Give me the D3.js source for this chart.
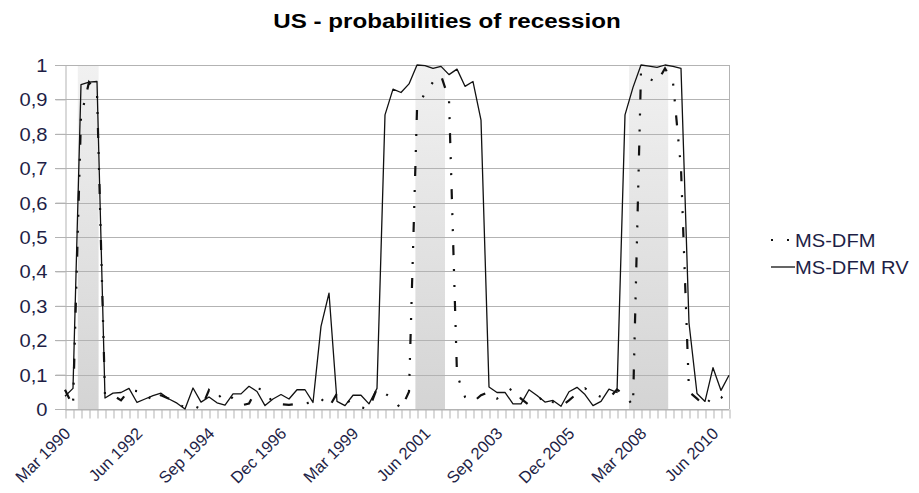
<!DOCTYPE html>
<html>
<head>
<meta charset="utf-8">
<title>US - probabilities of recession</title>
<script src="https://cdn.jsdelivr.net/npm/d3@7"></script>
<style>
  body { margin: 0; background: #fff; }
  svg { display: block; font-family: "Liberation Sans", Arial, sans-serif; }
  .grid line { stroke: #b3b3b3; stroke-width: 1; }
  .axis path, .axis line { stroke: #b3b3b3; stroke-width: 1; }
  .axis text { fill: #1e1e46; }
</style>
</head>
<body>
<script>

// quarterly, Mar 1990 .. Dec 2010 (84 quarters)
var tickLabels = ["Mar 1990", "Jun 1992", "Sep 1994", "Dec 1996", "Mar 1999",
                  "Jun 2001", "Sep 2003", "Dec 2005", "Mar 2008", "Jun 2010"];
var months = ["Mar", "Jun", "Sep", "Dec"];
var quarters = [];
for (var yr = 1990; yr <= 2010; yr++) months.forEach(function(m) { quarters.push(m + " " + yr); });

var msDfm = [
  0.056, 0.008, 0.85, 0.95, 0.92, 0.04, 0.04, 0.025, 0.055, 0.052,
  0.048, 0.02, 0.04, 0.03, 0.015, 0.005, 0.01, 0.0, 0.055, 0.03,
  0.05, 0.03, 0.01, 0.016, 0.06, 0.055, 0.016, 0.014, 0.012, 0.015,
  0.016, 0.02, 0.03, 0.005, 0.045, 0.03, 0.012, 0.005, 0.0, 0.06,
  0.045, 0.03, 0.0, 0.05, 0.87, 0.92, 0.95, 0.97, 0.9, 0.1,
  0.035, 0.02, 0.04, 0.05, 0.03, 0.045, 0.062, 0.03, 0.012, 0.022,
  0.04, 0.02, 0.008, 0.025, 0.045, 0.06, 0.045, 0.035, 0.03, 0.057,
  0.04, 0.01, 0.98, 0.96, 0.95, 0.99, 0.95, 0.7, 0.05, 0.03,
  0.008, 0.04, 0.035, 0.015
];

var msDfmRv = [
  0.037, 0.06, 0.943, 0.95, 0.952, 0.032, 0.046, 0.048, 0.06, 0.019,
  0.029, 0.039, 0.046, 0.029, 0.017, 0.0, 0.061, 0.02, 0.035, 0.018,
  0.011, 0.044, 0.044, 0.066, 0.051, 0.01, 0.029, 0.042, 0.029, 0.056,
  0.056, 0.019, 0.24, 0.337, 0.022, 0.01, 0.04, 0.04, 0.015, 0.06,
  0.855, 0.93, 0.92, 0.945, 1.0, 0.998, 0.99, 0.996, 0.972, 0.988,
  0.938, 0.952, 0.84, 0.064, 0.048, 0.048, 0.015, 0.015, 0.056, 0.039,
  0.02, 0.025, 0.008, 0.05, 0.063, 0.042, 0.01, 0.022, 0.058, 0.048,
  0.855, 0.935, 1.0, 0.997, 0.993, 1.0, 0.996, 0.99, 0.25, 0.045,
  0.022, 0.12, 0.054, 0.098
];

// shaded recession periods, in quarter positions along the axis
var recStart = [1.6, 43.8, 70.5];
var recEnd   = [4.2, 47.5, 75.4];

var yTicks  = [0, 0.1, 0.2, 0.3, 0.4, 0.5, 0.6, 0.7, 0.8, 0.9, 1];
var yLabels = ["0", "0,1", "0,2", "0,3", "0,4", "0,5", "0,6", "0,7", "0,8", "0,9", "1"];

var seriesNames = ["MS-DFM", "MS-DFM RV"];

var W = 919, H = 493;
var plotL = 65, plotR = 729, plotT = 65, plotB = 409;
var sx = 1.15; // text is a little wide in the original

var svg = d3.select("body").append("svg")
    .attr("width", W)
    .attr("height", H);

var x = d3.scaleLinear().domain([0, quarters.length - 1]).range([plotL, plotR]);
var y = d3.scaleLinear().domain([0, 1]).range([plotB, plotT]);

var defs = svg.append("defs");
var grad = defs.append("linearGradient")
    .attr("id", "shade")
    .attr("x1", 0).attr("y1", 0).attr("x2", 0).attr("y2", 1);
grad.append("stop").attr("offset", "0%").attr("stop-color", "#f1f1f1");
grad.append("stop").attr("offset", "100%").attr("stop-color", "#d4d4d4");

// recession shading
svg.append("g")
  .selectAll("rect")
  .data(recStart)
  .enter().append("rect")
    .attr("x", function(d) { return x(d); })
    .attr("y", y(1))
    .attr("width", function(d, i) { return x(recEnd[i]) - x(d); })
    .attr("height", y(0) - y(1))
    .attr("fill", "url(#shade)");

// horizontal grid
svg.append("g")
    .attr("class", "grid")
  .selectAll("line")
  .data(yTicks)
  .enter().append("line")
    .attr("x1", plotL - 10)
    .attr("x2", plotR)
    .attr("y1", function(d) { return Math.round(y(d)) + 0.5; })
    .attr("y2", function(d) { return Math.round(y(d)) + 0.5; });

// y axis
var yAxis = svg.append("g")
    .attr("class", "axis")
    .attr("transform", "translate(" + (plotL + 0.5) + ",0)")
    .call(d3.axisLeft(y).tickValues(yTicks).tickSize(10).tickPadding(8)
      .tickFormat(function(d, i) { return yLabels[i]; }));
yAxis.selectAll("text")
    .attr("x", null)
    .attr("dy", null)
    .attr("font-size", 17.5)
    .attr("font-family", "Liberation Sans, Arial, sans-serif")
    .attr("transform", "translate(-18,6.5) scale(" + sx + ",1)");

// right frame
svg.append("line")
    .attr("x1", plotR + 0.5).attr("x2", plotR + 0.5)
    .attr("y1", y(1)).attr("y2", y(0))
    .attr("stroke", "#b3b3b3");

// x axis
var xAxis = svg.append("g")
    .attr("class", "axis")
    .attr("transform", "translate(0," + (Math.round(y(0)) + 0.5) + ")")
    .call(d3.axisBottom(x).tickValues(d3.range(quarters.length)).tickSize(9).tickSizeOuter(0)
      .tickFormat(function(i) { return tickLabels.indexOf(quarters[i]) >= 0 ? quarters[i] : ""; }));
xAxis.selectAll(".tick line").attr("transform", "translate(0.5,0)");
xAxis.selectAll("text")
    .attr("y", null)
    .attr("dy", null)
    .attr("font-size", 16.5)
    .attr("font-family", "Liberation Sans, Arial, sans-serif")
    .attr("text-anchor", "end")
    .attr("transform", "translate(6,25) rotate(-45)");

// series
var line = d3.line()
    .x(function(d, i) { return x(i); })
    .y(function(d) { return y(d); });

svg.append("path")
    .datum(msDfmRv)
    .attr("fill", "none")
    .attr("stroke", "#111")
    .attr("stroke-width", 1.3)
    .attr("stroke-linejoin", "round")
    .attr("d", line);

svg.append("path")
    .datum(msDfm)
    .attr("fill", "none")
    .attr("stroke", "#111")
    .attr("stroke-width", 2.2)
    .attr("stroke-dasharray", "10,14,2,14,2,14")
    .attr("d", line);

// title
svg.append("text")
    .attr("transform", "translate(447,28) scale(" + sx + ",1)")
    .attr("text-anchor", "middle")
    .attr("font-size", 21)
    .attr("font-weight", "bold")
    .attr("fill", "#000")
    .text("US - probabilities of recession");

// legend
var legend = svg.append("g")
  .selectAll("g")
  .data(seriesNames)
  .enter().append("g")
    .attr("transform", function(d, i) { return "translate(771," + (240 + i * 27) + ")"; });

legend.append("line")
    .attr("x1", 0).attr("x2", 24)
    .attr("y1", 0).attr("y2", 0)
    .attr("stroke", "#111")
    .attr("stroke-width", function(d, i) { return i === 0 ? 2.2 : 1.3; })
    .attr("stroke-dasharray", function(d, i) { return i === 0 ? "10,14,2,14,2,14" : null; })
    .attr("stroke-dashoffset", function(d, i) { return i === 0 ? 24 : null; });

legend.append("text")
    .attr("transform", "translate(24,6.5) scale(" + sx + ",1)")
    .attr("font-size", 17.5)
    .attr("fill", "#1e1e46")
    .text(function(d) { return d; });

</script>
</body>
</html>
